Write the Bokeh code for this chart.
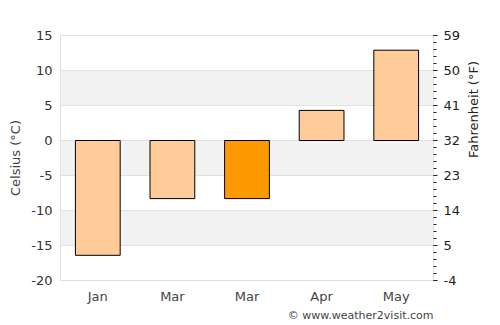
import math
from bokeh.plotting import figure
from bokeh.models import Range1d, LinearAxis, FixedTicker, Title, ColumnDataSource
from bokeh.embed import file_html
from bokeh.resources import INLINE

months = ["Jan", "Mar", "Mar", "Apr", "May"]
temps_c = [-16.4, -8.3, -8.3, 4.3, 12.9]
colors = ["#ffcc99", "#ffcc99", "#ff9900", "#ffcc99", "#ffcc99"]
c_ticks = [-20, -15, -10, -5, 0, 5, 10, 15]
f_ticks = [-4, 5, 14, 23, 32, 41, 50, 59]
f_minor = [round(-4 + 1.8 * i, 2) for i in range(36)]

xs = list(range(len(months)))
src = ColumnDataSource(dict(x=xs, top=temps_c, color=colors))

p = figure(width=500, height=325, output_backend="svg", toolbar_location=None,
           x_range=Range1d(-0.5, len(months) - 0.5), y_range=Range1d(c_ticks[0], c_ticks[-1]),
           min_border_left=60, min_border_right=67, min_border_top=35, min_border_bottom=45)
p.extra_y_ranges = {"f": Range1d(f_ticks[0], f_ticks[-1])}

p.vbar(x="x", top="top", bottom=0, width=0.6, fill_color="color", line_color="black",
       line_width=1, source=src)

font = "DejaVu Sans"
p.outline_line_color = "#dddddd"
p.background_fill_color = "white"
p.border_fill_color = "white"

# x axis
p.xaxis.ticker = FixedTicker(ticks=xs)
p.xaxis.major_label_overrides = {i: m for i, m in zip(xs, months)}
p.xaxis.axis_line_color = None
p.xaxis.major_tick_line_color = None
p.xaxis.minor_tick_line_color = None
p.xaxis.major_tick_out = 0
p.xaxis.major_tick_in = 0
p.xaxis.major_label_text_font = font
p.xaxis.major_label_text_font_size = "13px"
p.xaxis.major_label_text_color = "#444444"
p.xaxis.major_label_standoff = 8
p.xgrid.grid_line_color = None

# left axis
p.yaxis.ticker = FixedTicker(ticks=c_ticks)
p.yaxis.major_label_overrides = {t: str(t) for t in c_ticks}
p.yaxis.axis_line_color = None
p.yaxis.major_tick_line_color = None
p.yaxis.minor_tick_line_color = None
p.yaxis.major_tick_out = 0
p.yaxis.major_tick_in = 0
p.yaxis.major_label_text_font = font
p.yaxis.major_label_text_font_size = "13px"
p.yaxis.major_label_text_color = "#333333"
p.yaxis.major_label_standoff = 8
p.yaxis.axis_label = "Celsius (°C)"
p.yaxis.axis_label_text_font = font
p.yaxis.axis_label_text_font_size = "13px"
p.yaxis.axis_label_text_font_style = "normal"
p.yaxis.axis_label_text_color = "#444444"
p.yaxis.axis_label_standoff = 5

p.ygrid.ticker = FixedTicker(ticks=c_ticks)
p.ygrid.grid_line_color = "#e0e0e0"
p.ygrid.band_fill_color = "#f2f2f2"
p.ygrid.band_fill_alpha = 1.0

# right axis (ticks and labels)
ra = LinearAxis(y_range_name="f", ticker=FixedTicker(ticks=f_ticks, minor_ticks=f_minor))
ra.major_label_overrides = {t: str(t) for t in f_ticks}
ra.axis_line_color = None
ra.major_tick_line_color = "#222222"
ra.major_tick_out = 4
ra.major_tick_in = 0
ra.minor_tick_line_color = "#222222"
ra.minor_tick_out = 3
ra.minor_tick_in = 0
ra.major_label_text_font = font
ra.major_label_text_font_size = "13px"
ra.major_label_text_color = "#222222"
ra.major_label_standoff = 6
p.add_layout(ra, "right")

# right axis title (reads bottom-to-top, centred via bounds)
la = LinearAxis(y_range_name="f", ticker=FixedTicker(ticks=[]), bounds=(-4, 33))
la.axis_line_color = None
la.major_tick_line_color = None
la.minor_tick_line_color = None
la.major_tick_out = 0
la.major_tick_in = 0
la.axis_label = "Fahrenheit (°F)"
la.axis_label_orientation = math.pi / 2
la.axis_label_text_font = font
la.axis_label_text_font_size = "13px"
la.axis_label_text_font_style = "normal"
la.axis_label_text_color = "#222222"
la.axis_label_standoff = 10
p.add_layout(la, "right")

t = Title(text="© www.weather2visit.com", align="right", text_font=font,
          text_font_size="11px", text_font_style="normal", text_color="#444444",
          standoff=0, offset=0)
p.add_layout(t, "below")

open("out.html", "w").write(file_html(p, INLINE))
